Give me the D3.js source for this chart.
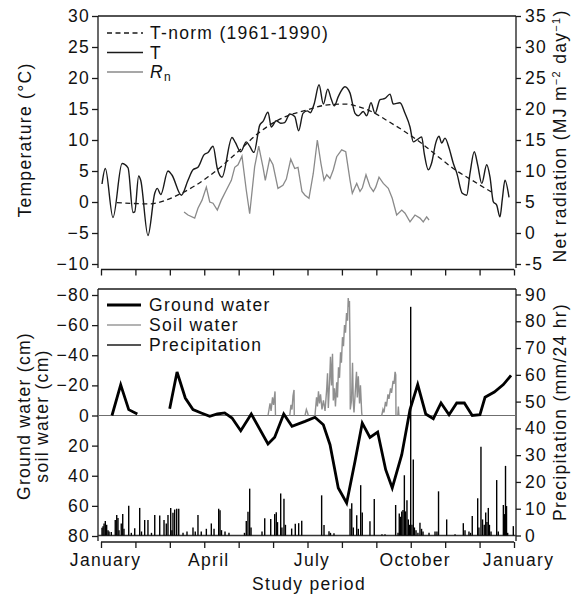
<!DOCTYPE html>
<html>
<head>
<meta charset="utf-8">
<script src="https://cdn.jsdelivr.net/npm/d3@7"></script>
<style>
  body { margin: 0; background: #fff; }
  svg text {
    font-family: 'Liberation Sans', Arial, sans-serif;
    font-size: 17.5px;
    letter-spacing: 1.3px;
    fill: #111;
  }
</style>
</head>
<body>
<svg id="chart" width="571" height="597"></svg>
<script>
/* global d3 */

// day of study year (0 = 1 January) and value
const tNorm = [[14, -0.1], [42, -0.3], [71, 1.4], [95, 4.1], [121, 8.1], [139, 11.1],
  [162, 13.7], [181, 14.8], [198, 15.6], [216, 15.8], [227, 15.4], [239, 14.6], [254, 13.0],
  [269, 11.3], [283, 9.5], [298, 7.3], [313, 5.2], [328, 3.5], [347, 1.4]];

const tDaily = [[0.9, 2.9], [3.8, 5.4], [10.6, -2.5], [18.6, 6.2], [23.9, 5.5], [28.3, -1.7],
  [29.8, -1.6], [33.3, 4.2], [35.1, 3.5], [41.5, -5.4], [47.5, 1.4], [49.8, 2.2], [52.8, 1.2],
  [59.2, 5.0], [62.7, 4.35], [71, 1.1], [76.9, 3.5], [81.3, 5.2], [85.7, 5.6], [91, 7.6],
  [94.6, 8.0], [99, 9.0], [102.8, 5.4], [106.9, 4.0], [115.8, 10.4], [118.7, 9.6], [123.5, 8.1],
  [128.4, 9.7], [131.4, 9.0], [135.2, 8.0], [140.3, 12.4], [143.2, 13.0], [147.6, 14.5],
  [150.5, 12.1], [154.9, 13.1], [158.8, 12.7], [162.3, 12.8], [166.8, 14.2], [171.2, 13.8],
  [174.7, 11.5], [178.5, 14.3], [182.3, 14.7], [185, 14.4], [188.5, 15.9], [192.7, 18.9],
  [196.5, 15.8], [200.4, 18.2], [203.3, 16.7], [206.2, 15.5], [209.7, 17], [215.6, 18.6],
  [220, 17.6], [224.5, 14.3], [227.4, 13.9], [231.8, 14.6], [234.8, 13.9], [238.6, 16],
  [242.2, 14.3], [246.6, 16.5], [251, 16.7], [255.4, 17.4], [258.3, 15.8], [264.2, 16],
  [268.7, 14.3], [273.1, 12.1], [276, 9.7], [279, 10.0], [283.4, 10.5], [285.7, 7.8],
  [289.3, 5.2], [292.2, 6.3], [295.8, 9.5], [298.7, 10.6], [301.1, 9.5], [304, 10.3],
  [307.6, 8.7], [311.4, 6.2], [314.4, 4.7], [319.3, 1.4], [323.2, 1.1], [326.1, 4.6],
  [329.9, 8.1], [332.9, 6.0], [336.5, 3.0], [340.9, 6.0], [343.8, 4.0], [346.7, 0.05],
  [349.7, -0.5], [352.6, -2.4], [354.7, 0.5], [357, 3.5], [360.6, 0.75]];

const rnDaily = [[73.4, 3.4], [76.9, 2.9], [82.8, 2.4], [85.7, 4.0], [89.3, 5.3], [93.1, 7.4],
  [96.1, 5.0], [99, 4.8], [102.8, 3.7], [106.3, 5.3], [110.7, 6.9], [115.2, 8.5], [118.2, 10.6],
  [121.1, 11.0], [124.6, 12.4], [128.4, 6.9], [131.4, 3.1], [135.8, 10.7], [139.4, 14.0],
  [143.2, 10.6], [145.2, 8.5], [149.1, 12.0], [152, 11.0], [156.4, 7.2], [160.8, 7.7],
  [163.8, 8.7], [167.7, 11.9], [171.2, 10.4], [174.1, 10.6], [177.6, 6.7], [180.3, 6.1],
  [183.8, 5.6], [187.6, 9.6], [191.2, 15.0], [194.4, 11.2], [197.1, 8.5], [199.5, 9.4],
  [202.4, 8.8], [205.3, 10.2], [208.3, 12.3], [212.7, 13.4], [216.3, 13.1], [220.1, 8.5],
  [222.1, 6.4], [226, 8.0], [228.9, 6.7], [231, 7.3], [234.2, 9.4], [237.7, 7.5], [240.7, 6.7],
  [242.8, 7.4], [245.7, 9.0], [249.5, 8.0], [253.9, 7.2], [257.4, 5.6], [261.3, 2.9],
  [265.8, 3.7], [268.7, 3.2], [273.1, 1.8], [277.5, 2.9], [281.9, 2.4], [284.8, 1.8],
  [287.8, 2.6], [289.9, 2.1]];

// null marks the missing readings in February
const groundWater = [[9.7, 0], [17.4, -20.4], [24.5, -3.9], [32.1, -1.0], [46, null],
  [60.7, -4.5], [67.2, -28.9], [74.5, -11.6], [81.3, -3.9], [88.6, -1.7], [96.1, 0.5],
  [102.8, -1], [109.3, -1.7], [115.8, 1.7], [123.5, 10.1], [132.8, -1], [147.6, 18.9],
  [153.5, 14.5], [161.5, -1], [168.8, 7.2], [180.3, 3.9], [189.1, 1.2], [196.5, 6.1],
  [202.4, 19.4], [209.7, 48.1], [217.1, 58.1], [224.5, 30.4], [230.9, 5], [237.7, 14.5],
  [244.5, 11], [251.6, 36], [257.4, 48.1], [265.8, 26], [273.1, -3.9], [279.9, -20.5],
  [287, -1], [293.7, 2.1], [300.5, -8.3], [307.6, -0.5], [314.4, -8.3], [321.1, -8.3],
  [328.1, 0], [334.9, -0.5], [339.4, -12.1], [347.6, -15.6], [355.6, -20.5], [362.4, -26.7]];

const soilWater = [
  [[147.6, 0], [149.4, -8], [150.3, -3], [151.6, -12], [152.5, -7], [153.8, -16], [154.2, 0]],
  [[166.8, 0], [167.9, -7], [168.8, -4], [169.7, -13], [170.6, -17], [170.8, 0]],
  [[180.3, 0], [181.5, -4], [182.5, -2], [183.2, 0]],
  [[189.1, 0], [190.5, -12], [191.3, -6], [192.2, -16], [193.1, -8], [194, -14], [195.3, -4],
    [196.6, -10], [198, -3], [199.5, -18], [200.2, -28], [200.9, -5], [202, -22], [202.8, -39],
    [203.7, -20], [204.6, -41], [205.3, -10], [206.3, -18], [207.2, -6], [208.3, -22], [209, -12],
    [209.9, -32], [210.8, -25], [211.7, -42], [212.5, -35], [213.4, -52], [214.3, -46],
    [215.2, -60], [216.1, -55], [217, -68], [217.9, -63], [218.5, -78], [219.2, -72],
    [219.6, -76], [220, -50], [220.3, -4], [221.4, -10], [222.3, -35], [223, -8], [223.6, -2],
    [224.9, -18], [225.8, -29], [226.5, -12], [227.4, -26], [228.5, -8], [229.3, -20],
    [230.4, -2], [230.7, 0]],
  [[248.1, 0], [249.2, -4], [250.1, -2], [251.4, -9], [252.3, -6], [253.6, -14], [254.5, -11],
    [255.9, -18], [256.8, -15], [258.1, -23], [259, -21], [259.9, -29], [260.5, -27], [260.7, 0]],
  [[262.3, 0], [262.8, -6], [263.3, 0]],
];

const precipitation = [[0.9, 2.9], [1.8, 3.5], [2.7, 4.5], [3.8, 5.4], [5, 4], [6.2, 2],
  [7.1, 1.5], [9.1, 1.3], [12.6, 5.8], [13.9, 7.7], [15, 6.5], [15.9, 2], [17.9, 4.5], [19.2, 8],
  [20.3, 2.5], [24.5, 11.1], [26.8, 1], [29.8, 2.7], [34.2, 10.3], [35.8, 1.5], [38.6, 5.8],
  [41.5, 5.8], [44.6, 1], [47.5, 7.7], [51.9, 7.5], [55.7, 5.8], [57.7, 4.5], [59.2, 7.7],
  [61.6, 10.3], [62.7, 2], [63.6, 8.5], [65.1, 9.7], [66.9, 10], [68.7, 10], [72.5, 1],
  [76, 1.5], [81.3, 3], [83.3, 1.5], [85.7, 7.7], [88.6, 1.5], [93.1, 2.5], [97.5, 4.5],
  [99.9, 2.5], [104, 10], [105.2, 9.4], [106.5, 2], [109.6, 1.5], [113.1, 1], [126.8, 1],
  [128.4, 5.4], [129.9, 8.9], [131.4, 17.5], [132.6, 3], [142.3, 1.5], [144.7, 6.4], [150, 6.2],
  [153.5, 8], [154.9, 8.7], [156, 5], [158.8, 15.7], [159.9, 3], [161.7, 13.7], [163, 4],
  [168.5, 2.6], [171.7, 4.4], [174.7, 4.6], [177.4, 5.5], [195, 15], [197.1, 3.9], [201.5, 1.6],
  [202.8, 1], [205.9, 0.8], [220.1, 10], [221.6, 12], [223, 3], [226, 7.6], [227.4, 2.5],
  [229.5, 18.8], [230.9, 8.6], [237.7, 5.3], [241.5, 13.6], [248.3, 0.5], [251, 0.5],
  [260.4, 11.4], [262.5, 1], [263.6, 8.2], [264.7, 7], [265.8, 9], [266.9, 9.5], [268.1, 22.5],
  [269.1, 9], [270.4, 13.2], [271.6, 6], [272.6, 4], [273.7, 85.4], [274.8, 4], [276, 28.4],
  [277, 3], [278.4, 2], [280.1, 1], [281.9, 4.8], [283.3, 2.5], [284.6, 1.5], [289.9, 1],
  [295.2, 1.5], [296.9, 1.5], [298.3, 16.5], [305.5, 6], [312.9, 0.5], [320.2, 4.6], [321.7, 2],
  [325.2, 1.5], [326.6, 1], [328.1, 7.3], [332.9, 13.9], [334, 3], [335.8, 33.1], [337.2, 6],
  [338.7, 4], [340, 8.6], [341.1, 5], [342.3, 10.3], [343.3, 4], [344.7, 1.5], [349.7, 20.7],
  [351.1, 1.5], [355.6, 11.4], [356.6, 8], [357.5, 26], [358.4, 11], [359.4, 1], [364.4, 3.5]];

const monthLabels = ['January', '', '', 'April', '', '', 'July', '', '', 'October', '', '', 'January'];
const tempTicks = [-10, -5, 0, 5, 10, 15, 20, 25, 30];
const rnTicks = [-5, 0, 5, 10, 15, 20, 25, 30, 35];
const waterTicks = [-80, -60, -40, -20, 0, 20, 40, 60, 80];
const precipTicks = [0, 10, 20, 30, 40, 50, 60, 70, 80, 90];

const left = 98;
const right = 516;
const ink = '#1a1a1a';
const minus = (d) => (d < 0 ? `\u2212${Math.abs(d)}` : `${d}`);

const svg = d3.select('#chart');

const x = d3.scaleLinear().domain([0, 365]).range([101, 514]);
const monthTicks = monthLabels.map((m, i) => (i * 365) / 12);

const yTemp = d3.scaleLinear().domain([-10, 30]).range([264, 16]);
const yRn = d3.scaleLinear().domain([-5, 35]).range([264, 16]);
const yWater = d3.scaleLinear().domain([-80, 80]).range([295, 536]);
const yPrecip = d3.scaleLinear().domain([0, 90]).range([535.5, 294.5]);

const vline = (xx, y1, y2) => svg.append('line')
  .attr('x1', xx).attr('x2', xx).attr('y1', y1).attr('y2', y2)
  .attr('stroke', ink).attr('stroke-width', 1.3);
const hline = (yy, x1, x2, color, w) => svg.append('line')
  .attr('x1', x1).attr('x2', x2).attr('y1', yy).attr('y2', yy)
  .attr('stroke', color || ink).attr('stroke-width', w || 1.3);

const styleAxis = (g) => {
  g.select('.domain').remove();
  g.selectAll('line').attr('stroke', ink).attr('stroke-width', 1.3);
};

// ---------- top panel ----------
hline(16, left, right);
vline(left, 16, 268);
vline(right, 16, 268);
hline(269.5, 101, 514);

svg.append('g')
  .attr('transform', `translate(${left} 0)`)
  .call(d3.axisLeft(yTemp).tickValues(tempTicks).tickSize(6).tickPadding(2).tickFormat(minus))
  .call(styleAxis);
svg.append('g')
  .attr('transform', `translate(${right} 0)`)
  .call(d3.axisRight(yRn).tickValues(rnTicks).tickSize(5).tickPadding(4).tickFormat((d) => `${d}`))
  .call(styleAxis);
svg.append('g')
  .attr('transform', 'translate(0 269.5)')
  .call(d3.axisBottom(x).tickValues(monthTicks).tickSize(6).tickFormat(''))
  .call(styleAxis);

const tLine = d3.line().x((d) => x(d[0])).y((d) => yTemp(d[1])).curve(d3.curveMonotoneX);
const rnLine = d3.line().x((d) => x(d[0])).y((d) => yRn(d[1]));

svg.append('path').datum(rnDaily)
  .attr('d', rnLine).attr('fill', 'none').attr('stroke', '#8a8a8a').attr('stroke-width', 1.3);
svg.append('path').datum(tNorm)
  .attr('d', tLine).attr('fill', 'none').attr('stroke', ink).attr('stroke-width', 1.3)
  .attr('stroke-dasharray', '5,3.5');
svg.append('path').datum(tDaily)
  .attr('d', tLine).attr('fill', 'none').attr('stroke', ink).attr('stroke-width', 1.4);

// legend (top)
const topLegend = svg.append('g');
hline(33, 107, 143).attr('stroke-dasharray', '5,3.5');
hline(52.5, 107, 143);
hline(72, 107, 143, '#8a8a8a');
topLegend.append('text').attr('x', 150).attr('y', 39).text('T-norm (1961-1990)');
topLegend.append('text').attr('x', 150).attr('y', 58.5).text('T');
const rnLabel = topLegend.append('text').attr('x', 150).attr('y', 78);
rnLabel.append('tspan').style('font-style', 'italic').text('R');
rnLabel.append('tspan').attr('dy', 3).style('font-size', '12px').text('n');

// axis titles (top)
svg.append('text')
  .attr('transform', 'translate(31 140) rotate(-90)')
  .attr('text-anchor', 'middle')
  .text('Temperature (°C)');
const rnTitle = svg.append('text')
  .attr('transform', 'translate(566 136) rotate(-90)')
  .attr('text-anchor', 'middle');
rnTitle.append('tspan').text('Net radiation (MJ m');
rnTitle.append('tspan').attr('dy', -6).style('font-size', '11px').text('\u22122');
rnTitle.append('tspan').attr('dy', 6).text(' day');
rnTitle.append('tspan').attr('dy', -6).style('font-size', '11px').text('\u22121');
rnTitle.append('tspan').attr('dy', 6).text(')');

// ---------- bottom panel ----------
hline(289, left, right);
vline(left, 289, 541);
vline(right, 289, 541);
hline(yWater(0), left, right, '#6f6f6f', 1.2);
hline(535.5, left, right, '#333', 1.3);
hline(542, 101, 514);

svg.append('g')
  .attr('transform', `translate(${left} 0)`)
  .call(d3.axisLeft(yWater).tickValues(waterTicks).tickSize(6).tickPadding(2).tickFormat(minus))
  .call(styleAxis);
svg.append('g')
  .attr('transform', `translate(${right} 0)`)
  .call(d3.axisRight(yPrecip).tickValues(precipTicks).tickSize(5).tickPadding(4))
  .call(styleAxis);
svg.append('g')
  .attr('transform', 'translate(0 542)')
  .call(d3.axisBottom(x).tickValues(monthTicks).tickSize(6).tickPadding(6)
    .tickFormat((d, i) => monthLabels[i]))
  .call(styleAxis)
  .selectAll('text')
  .attr('dx', 4);

// precipitation bars
svg.append('g').selectAll('line')
  .data(precipitation)
  .enter()
  .append('line')
  .attr('x1', (d) => x(d[0]))
  .attr('x2', (d) => x(d[0]))
  .attr('y1', yPrecip(0))
  .attr('y2', (d) => yPrecip(d[1]))
  .attr('stroke', '#000')
  .attr('stroke-width', 1.4);

const waterLine = d3.line()
  .defined((d) => d[1] !== null)
  .x((d) => x(d[0]))
  .y((d) => yWater(d[1]));

svg.append('g').selectAll('path')
  .data(soilWater)
  .enter()
  .append('path')
  .attr('d', waterLine)
  .attr('fill', 'none')
  .attr('stroke', '#8f8f8f')
  .attr('stroke-width', 1.4);

svg.append('path').datum(groundWater)
  .attr('d', waterLine)
  .attr('fill', 'none')
  .attr('stroke', '#000')
  .attr('stroke-width', 2.8);

// legend (bottom)
const botLegend = svg.append('g');
hline(305, 107, 141, '#000', 2.8);
hline(325, 107, 141, '#9a9a9a', 1.3);
hline(345, 107, 141, '#555', 2);
botLegend.append('text').attr('x', 149).attr('y', 311).text('Ground water');
botLegend.append('text').attr('x', 149).attr('y', 331).text('Soil water');
botLegend.append('text').attr('x', 149).attr('y', 351).text('Precipitation');

// axis titles (bottom)
svg.append('text')
  .attr('transform', 'translate(30 416) rotate(-90)')
  .attr('text-anchor', 'middle')
  .text('Ground water (cm)');
svg.append('text')
  .attr('transform', 'translate(48 416) rotate(-90)')
  .attr('text-anchor', 'middle')
  .text('soil water (cm)');
svg.append('text')
  .attr('transform', 'translate(566 412) rotate(-90)')
  .attr('text-anchor', 'middle')
  .text('Precipitation (mm/24 hr)');

svg.append('text')
  .attr('x', 309)
  .attr('y', 590)
  .attr('text-anchor', 'middle')
  .text('Study period');
</script>
</body>
</html>
